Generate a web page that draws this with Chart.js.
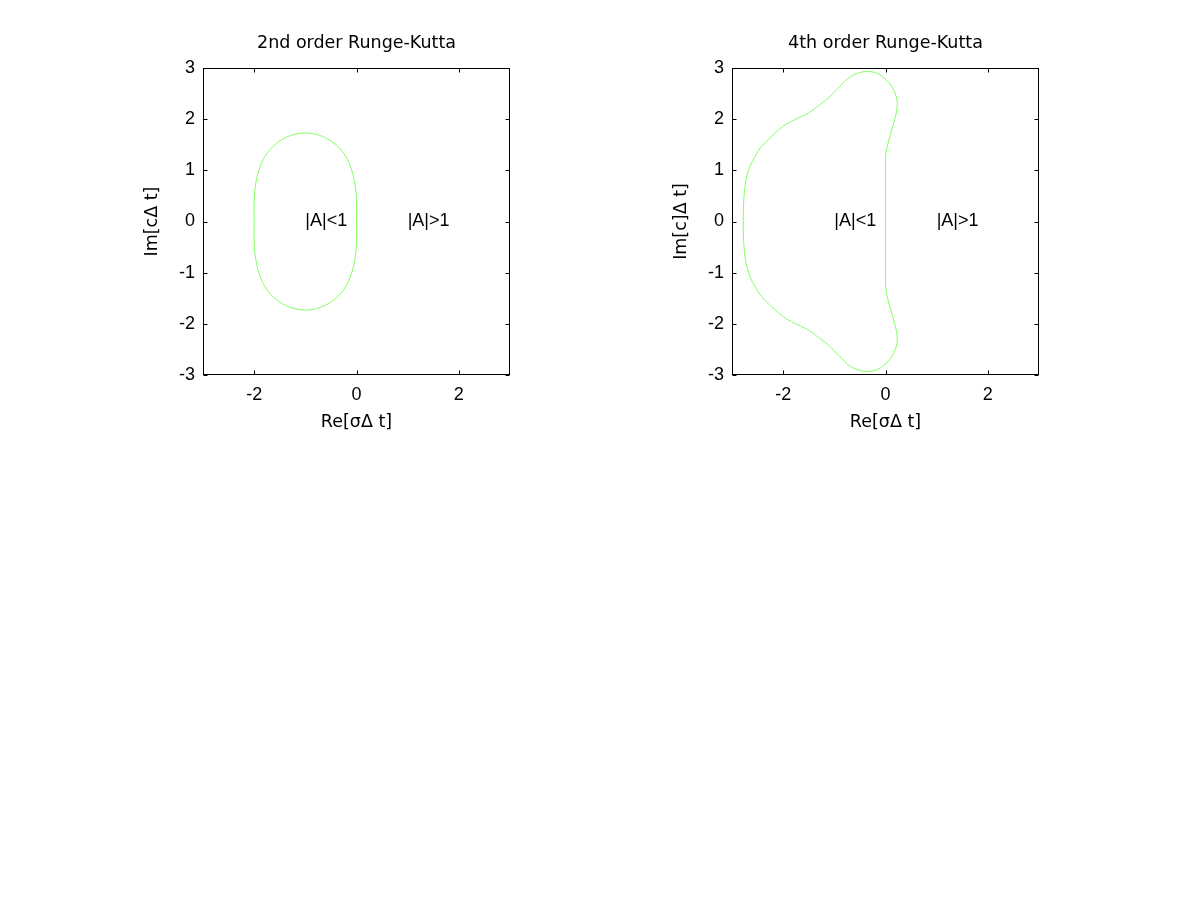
<!DOCTYPE html>
<html>
<head>
<meta charset="utf-8">
<script src="https://cdn.jsdelivr.net/npm/chart.js@4/dist/chart.umd.min.js"></script>
<style>
  html, body { margin: 0; padding: 0; background: #fff; width: 1200px; height: 901px; overflow: hidden; }
  canvas { position: absolute; top: 0; }
  #c1 { left: 100px; }
  #c2 { left: 629px; }
</style>
</head>
<body>
<canvas id="c1" width="420" height="450"></canvas>
<canvas id="c2" width="420" height="450"></canvas>
<script>
// ---- data ----
const chartTitles = ['2nd order Runge-Kutta', '4th order Runge-Kutta'];
const xAxisTitles = ['Re[σΔ t]', 'Re[σΔ t]'];
const yAxisTitles = ['Im[cΔ t]', 'Im[c]Δ t]'];
const xTickValues = [-2, 0, 2];
const yTickValues = [-3, -2, -1, 0, 1, 2, 3];
const regionLabels = ['|A|<1', '|A|>1'];
const regionX = [-1, 1];
const regionY = [0, 0];

// 2nd order RK stability boundary (Re, Im)
const rk2Re = [0.00, 0.00, -0.03, -0.10, -0.21, -0.37, -0.56, -0.78, -1.00, -1.22, -1.44, -1.63, -1.79, -1.90, -1.97, -2.00,
               -2.00, -2.00, -1.97, -1.90, -1.79, -1.63, -1.44, -1.22, -1.00, -0.78, -0.56, -0.37, -0.21, -0.10, -0.03, 0.00, 0.00];
const rk2Im = [0.00, 0.38, 0.73, 1.02, 1.27, 1.47, 1.61, 1.70, 1.73, 1.70, 1.61, 1.47, 1.27, 1.02, 0.73, 0.38,
               0.00, -0.38, -0.73, -1.02, -1.27, -1.47, -1.61, -1.70, -1.73, -1.70, -1.61, -1.47, -1.27, -1.02, -0.73, -0.38, 0.00];

// 4th order RK stability boundary (Re, Im)
const rk4Re = [0.00, 0.00, 0.00, 0.01, 0.05, 0.14, 0.21, 0.23, 0.21, 0.14, 0.01, -0.15, -0.34, -0.54, -0.73, -0.86, -0.99, -1.12, -1.29, -1.51, -1.77, -2.00, -2.23, -2.42, -2.55, -2.63, -2.69, -2.73, -2.76, -2.775,
               -2.78,
               -2.775, -2.76, -2.73, -2.69, -2.63, -2.55, -2.42, -2.23, -2.00, -1.77, -1.51, -1.29, -1.12, -0.99, -0.86, -0.73, -0.54, -0.34, -0.15, 0.01, 0.14, 0.21, 0.23, 0.21, 0.14, 0.05, 0.01, 0.00, 0.00, 0.00];
const rk4Im = [0.00, 0.50, 1.07, 1.34, 1.53, 1.86, 2.12, 2.31, 2.44, 2.61, 2.77, 2.89, 2.93, 2.90, 2.80, 2.67, 2.54, 2.41, 2.28, 2.12, 1.99, 1.86, 1.66, 1.47, 1.27, 1.12, 0.95, 0.78, 0.55, 0.30,
               0.00,
               -0.30, -0.55, -0.78, -0.95, -1.12, -1.27, -1.47, -1.66, -1.86, -1.99, -2.12, -2.28, -2.41, -2.54, -2.67, -2.80, -2.90, -2.93, -2.89, -2.77, -2.61, -2.44, -2.31, -2.12, -1.86, -1.53, -1.34, -1.07, -0.50, 0.00];

const curvesRe = [rk2Re, rk4Re];
const curvesIm = [rk2Im, rk4Im];

// ---- styling ----
const tickFont = { family: '"Liberation Sans", Arial, sans-serif', size: 18 };
const titleFont = { family: '"DejaVu Sans", sans-serif', size: 17.5, lineHeight: 1.2, weight: 'normal' };
const lineColor = '#80ff60';

const framePlugin = {
  id: 'frame',
  afterDatasetsDraw(chart) {
    const { ctx, chartArea: a, scales: { x, y } } = chart;
    ctx.save();
    ctx.strokeStyle = '#000';
    ctx.lineWidth = 1;
    const L = Math.round(a.left) + 0.5, R = Math.round(a.right) - 0.5;
    const T = Math.round(a.top) + 0.5, B = Math.round(a.bottom) - 0.5;
    ctx.strokeRect(L, T, R - L, B - T);
    const tl = 4;
    ctx.beginPath();
    xTickValues.forEach(v => {
      const px = Math.round(x.getPixelForValue(v)) + 0.5;
      ctx.moveTo(px, B); ctx.lineTo(px, B - tl);
      ctx.moveTo(px, T); ctx.lineTo(px, T + tl);
    });
    yTickValues.forEach(v => {
      const py = Math.round(y.getPixelForValue(v)) + 0.5;
      ctx.moveTo(L, py); ctx.lineTo(L + tl, py);
      ctx.moveTo(R, py); ctx.lineTo(R - tl, py);
    });
    ctx.stroke();
    ctx.fillStyle = '#000';
    ctx.font = '18px "Liberation Sans", Arial, sans-serif';
    ctx.textAlign = 'left';
    ctx.textBaseline = 'middle';
    regionLabels.forEach((t, i) => {
      ctx.fillText(t, x.getPixelForValue(regionX[i]), y.getPixelForValue(regionY[i]));
    });
    ctx.restore();
  }
};

function makeChart(id, idx) {
  const pts = curvesRe[idx].map((v, i) => ({ x: v, y: curvesIm[idx][i] }));
  return new Chart(document.getElementById(id), {
    type: 'scatter',
    data: {
      datasets: [{
        data: pts,
        showLine: true,
        borderColor: lineColor,
        borderWidth: 1,
        pointRadius: 0,
        tension: 0.4,
        fill: false
      }]
    },
    options: {
      responsive: false,
      animation: false,
      layout: { padding: { left: 0, right: 10, top: 0, bottom: 0 } },
      plugins: {
        legend: { display: false },
        tooltip: { enabled: false },
        title: {
          display: true,
          text: chartTitles[idx],
          fullSize: false,
          color: '#000',
          font: titleFont,
          padding: { top: 32.5, bottom: 14.5 }
        }
      },
      scales: {
        x: {
          type: 'linear',
          min: -3, max: 3,
          grid: { display: false, drawTicks: false },
          border: { display: false },
          afterBuildTicks: s => { s.ticks = xTickValues.map(v => ({ value: v })); },
          afterFit: s => { s.height = 75; },
          ticks: { color: '#000', font: tickFont, padding: 9, maxRotation: 0, autoSkip: false },
          title: { display: true, text: xAxisTitles[idx], color: '#000', font: titleFont, padding: { top: 17.5, bottom: 17.5 } }
        },
        y: {
          type: 'linear',
          min: -3, max: 3,
          grid: { display: false, drawTicks: false },
          border: { display: false },
          afterBuildTicks: s => { s.ticks = yTickValues.map(v => ({ value: v })); },
          afterFit: s => { s.width = 103; },
          ticks: { color: '#000', font: tickFont, padding: 8, autoSkip: false },
          title: { display: true, text: yAxisTitles[idx], color: '#000', font: titleFont, padding: { top: 41.5, bottom: 41.5 } }
        }
      }
    },
    plugins: [framePlugin]
  });
}

makeChart('c1', 0);
makeChart('c2', 1);
</script>
</body>
</html>
